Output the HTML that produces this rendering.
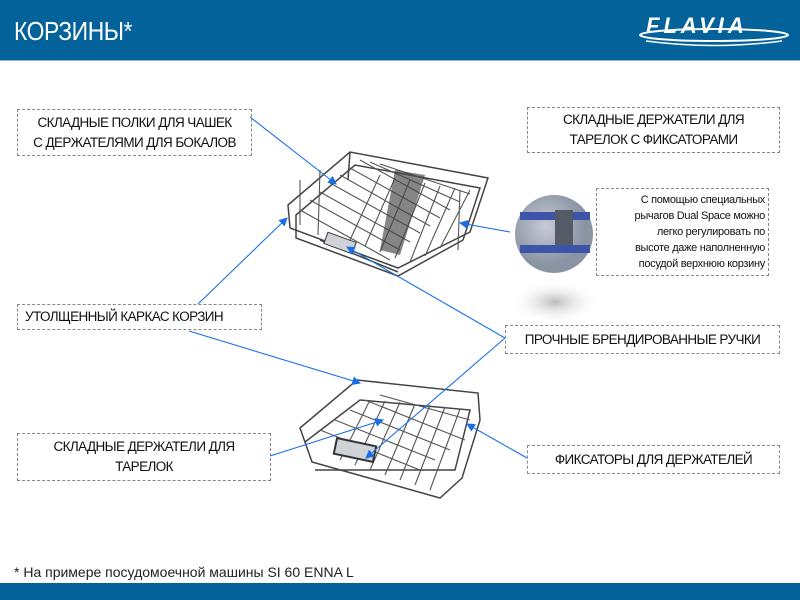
<!DOCTYPE html>
<html><head><meta charset="utf-8"><style>
body{margin:0;width:800px;height:600px;position:relative;background:#fff;font-family:"Liberation Sans","DejaVu Sans",sans-serif;overflow:hidden}
.hdr{position:absolute;left:0;top:0;width:800px;height:60px;background:#03629a;border-bottom:1px solid #8fb5cf}
.hdr .t{position:absolute;left:14px;top:16px;color:#fff;font-size:26px;transform:scaleX(.88);transform-origin:left;letter-spacing:-0.5px}
.logo{position:absolute;left:646px;top:13px;color:#fff;font-size:22px;font-weight:bold;font-style:italic;letter-spacing:4px}
.box{position:absolute;border:1px dashed #888;display:flex;align-items:center;justify-content:center;text-align:center;font-size:13.5px;color:#111;line-height:20px;letter-spacing:-0.6px}
.ft{position:absolute;left:0;top:583px;width:800px;height:17px;background:#03629a}
.note{position:absolute;left:14px;top:564px;font-size:14px;color:#222}
</style></head><body>
<div class="hdr"><div class="t">КОРЗИНЫ*</div><div class="logo">FLAVIA</div>
<svg style="position:absolute;left:634px;top:24px" width="160" height="24"><ellipse cx="80" cy="11" rx="74" ry="6" fill="none" stroke="#fff" stroke-width="2"/><path d="M12 17 Q80 26 148 17" fill="none" stroke="#fff" stroke-width="1.5"/></svg></div>

<div class="box" style="left:17px;top:109px;width:233px;height:45px"><span>СКЛАДНЫЕ ПОЛКИ ДЛЯ ЧАШЕК<br>С ДЕРЖАТЕЛЯМИ ДЛЯ БОКАЛОВ</span></div>
<div class="box" style="left:527px;top:107px;width:251px;height:44px"><span>СКЛАДНЫЕ ДЕРЖАТЕЛИ ДЛЯ<br>ТАРЕЛОК С ФИКСАТОРАМИ</span></div>
<div class="box" style="left:596px;top:188px;width:173px;height:88px;justify-content:flex-end;text-align:right;font-size:11px;line-height:16px;padding-right:3px;box-sizing:border-box;letter-spacing:-0.3px"><span>С помощью специальных<br>рычагов Dual Space можно<br>легко регулировать по<br>высоте даже наполненную<br>посудой верхнюю корзину</span></div>
<div class="box" style="left:17px;top:304px;width:245px;height:26px;justify-content:flex-start;padding-left:7px;box-sizing:border-box"><span>УТОЛЩЕННЫЙ КАРКАС КОРЗИН</span></div>
<div class="box" style="left:505px;top:325px;width:273px;height:27px"><span>ПРОЧНЫЕ БРЕНДИРОВАННЫЕ РУЧКИ</span></div>
<div class="box" style="left:17px;top:433px;width:252px;height:46px"><span>СКЛАДНЫЕ ДЕРЖАТЕЛИ ДЛЯ<br>ТАРЕЛОК</span></div>
<div class="box" style="left:527px;top:445px;width:251px;height:27px"><span>ФИКСАТОРЫ ДЛЯ ДЕРЖАТЕЛЕЙ</span></div>

<svg style="position:absolute;left:0;top:0" width="800" height="600">
<defs>
<marker id="a" markerWidth="8" markerHeight="8" refX="7" refY="4" orient="auto"><path d="M0,0 L8,4 L0,8z" fill="#1a6fe8"/></marker>
<radialGradient id="sh"><stop offset="0" stop-color="#bbb"/><stop offset="1" stop-color="#fff" stop-opacity="0"/></radialGradient>
<radialGradient id="ci" cx=".4" cy=".4"><stop offset="0" stop-color="#c7ccd6"/><stop offset="1" stop-color="#8a93a3"/></radialGradient>
</defs>
<ellipse cx="555" cy="302" rx="45" ry="22" fill="url(#sh)"/>
<circle cx="554" cy="234" r="39" fill="url(#ci)"/>
<rect x="520" y="212" width="70" height="8" fill="#3d55a8"/>
<rect x="520" y="245" width="70" height="8" fill="#3d55a8"/>
<rect x="555" y="210" width="18" height="35" fill="#555b66"/>
<g fill="none" stroke="#444" stroke-width="1.5">
<path d="M288 205 L350 152 L488 178 L470 232 L398 268 L290 228 Z"/>
<path d="M296 215 L355 165 L480 188 L463 240 L398 276 L296 238 Z"/>
<path d="M320 240 L398 272 M350 152 L348 180"/>
</g>
<g stroke="#555" stroke-width="1.1">
<path d="M300 210 L390 260 M310 200 L400 250 M320 192 L410 242 M330 183 L420 233 M340 175 L430 226 M350 168 L440 218 M360 160 L450 210 M370 162 L460 202 M380 164 L470 194"/>
<path d="M380 175 L350 240 M395 178 L365 246 M410 180 L380 252 M425 183 L395 258 M440 186 L410 262 M455 188 L425 256 M470 190 L440 248 M300 180 L300 225 M320 170 L318 235 M460 190 L458 250"/>
</g>
<rect x="325" y="237" width="30" height="12" fill="#cfd2d6" stroke="#333" transform="rotate(20 340 243)"/>
<path d="M395 170 L425 175 L400 255 L380 250Z" fill="#444" opacity=".65"/>
<g fill="none" stroke="#444" stroke-width="1.5">
<path d="M300 428 L357 380 L478 393 L480 420 L462 478 L440 498 L312 462 Z"/>
<path d="M305 442 L360 400 L470 410 L455 470 L315 470"/>
</g>
<g stroke="#555" stroke-width="1.1">
<path d="M320 430 L420 470 M335 420 L435 460 M350 410 L450 450 M365 400 L465 440 M380 395 L470 420"/>
<path d="M370 400 L340 460 M385 401 L355 465 M400 402 L370 470 M415 404 L385 475 M430 405 L400 480 M445 407 L415 485 M460 409 L430 490"/>
</g>
<rect x="335" y="442" width="40" height="16" fill="#cfd2d6" stroke="#333" stroke-width="2" transform="rotate(12 355 450)"/>
<g stroke="#1a6fe8" stroke-width="1.1" fill="none" marker-end="url(#a)">
<line x1="250" y1="117" x2="336" y2="184"/>
<line x1="198" y1="304" x2="287" y2="218"/>
<line x1="189" y1="331" x2="360" y2="383"/>
<line x1="505" y1="338" x2="347" y2="247"/>
<line x1="505" y1="338" x2="366" y2="458"/>
<line x1="270" y1="456" x2="383" y2="420"/>
<line x1="527" y1="458" x2="467" y2="424"/>
<line x1="510" y1="232" x2="460" y2="223"/>
</g>
</svg>
<div class="note">* На примере посудомоечной машины SI 60 ENNA L</div>
<div class="ft"></div>
</body></html>
